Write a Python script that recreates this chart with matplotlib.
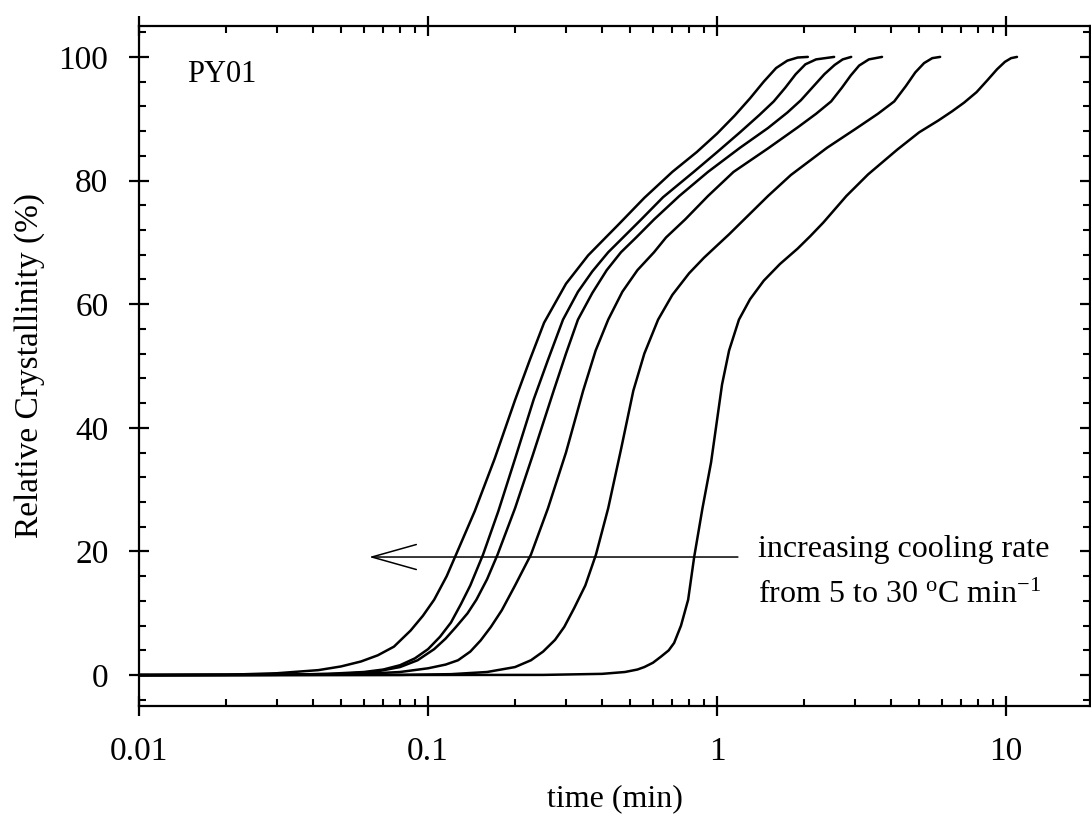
import matplotlib
matplotlib.use("Agg")
import matplotlib.pyplot as plt
from matplotlib.ticker import FixedLocator, MultipleLocator, LogLocator, NullFormatter, FuncFormatter

plt.rcParams['font.family'] = ['Liberation Serif', 'DejaVu Serif']
plt.rcParams['mathtext.fontset'] = 'custom'
plt.rcParams['mathtext.rm'] = 'Liberation Serif'
plt.rcParams['mathtext.it'] = 'Liberation Serif:italic'

# time (min) and relative crystallinity (%) for six cooling rates (fastest first)
t1 = [0.01, 0.02, 0.03, 0.0417, 0.05, 0.0586, 0.067, 0.0762, 0.087, 0.096, 0.105, 0.116, 0.125, 0.145, 0.17,
      0.2, 0.225, 0.252, 0.3, 0.358, 0.406, 0.454, 0.56, 0.70, 0.85, 1.0, 1.15, 1.3, 1.45, 1.6, 1.75, 1.9, 2.06]
y1 = [0.0, 0.05, 0.3, 0.8, 1.4, 2.2, 3.2, 4.6, 7.2, 9.6, 12.2, 16.0, 19.5, 26.5, 35.0,
      44.5, 51.0, 57.0, 63.3, 67.9, 70.5, 72.8, 77.2, 81.4, 84.6, 87.6, 90.5, 93.3, 96.0, 98.2, 99.4, 99.9, 100.0]

t2 = [0.01, 0.03, 0.045, 0.06, 0.07, 0.08, 0.09, 0.1, 0.11, 0.12, 0.13, 0.14, 0.155, 0.175, 0.2, 0.232,
      0.26, 0.293, 0.33, 0.37, 0.42, 0.473, 0.546, 0.65, 0.83, 1.0, 1.2, 1.4, 1.57, 1.72, 1.87, 2.02, 2.2, 2.54]
y2 = [0.0, 0.05, 0.2, 0.5, 0.9, 1.6, 2.7, 4.2, 6.2, 8.5, 11.5, 14.5, 19.5, 26.5, 35.0, 44.6,
      51.0, 57.5, 62.0, 65.3, 68.4, 70.8, 73.7, 77.3, 81.4, 84.6, 87.8, 90.6, 92.8, 95.0, 97.2, 98.8, 99.6, 100.0]

t3 = [0.01, 0.03, 0.05, 0.065, 0.08, 0.092, 0.105, 0.115, 0.125, 0.137, 0.147, 0.16, 0.174, 0.2, 0.23, 0.272,
      0.3, 0.33, 0.37, 0.415, 0.465, 0.525, 0.605, 0.74, 0.93, 1.2, 1.5, 1.75, 1.95, 2.15, 2.35, 2.55, 2.72, 2.91]
y3 = [0.0, 0.05, 0.2, 0.5, 1.3, 2.4, 4.2, 5.9, 7.8, 10.0, 12.2, 15.5, 19.5, 27.0, 35.5, 46.0,
      52.0, 57.5, 61.8, 65.5, 68.4, 70.8, 73.7, 77.5, 81.4, 85.3, 88.5, 91.0, 93.0, 95.2, 97.2, 98.7, 99.6, 100.0]

t4 = [0.01, 0.04, 0.06, 0.08, 0.1, 0.115, 0.127, 0.14, 0.152, 0.165, 0.18, 0.2, 0.227, 0.26, 0.3, 0.344,
      0.38, 0.42, 0.47, 0.53, 0.605, 0.666, 0.775, 0.93, 1.14, 1.5, 1.9, 2.2, 2.48, 2.7, 2.9, 3.1, 3.35, 3.72]
y4 = [0.0, 0.05, 0.2, 0.5, 1.1, 1.7, 2.4, 3.8, 5.6, 7.8, 10.5, 14.5, 19.5, 27.0, 36.0, 46.0,
      52.5, 57.5, 62.0, 65.5, 68.4, 70.8, 73.7, 77.5, 81.4, 85.2, 88.6, 90.8, 92.8, 95.0, 97.0, 98.6, 99.6, 100.0]

t5 = [0.01, 0.08, 0.12, 0.16, 0.2, 0.227, 0.25, 0.275, 0.296, 0.32, 0.35, 0.381, 0.42, 0.465, 0.513,
      0.56, 0.625, 0.7, 0.8, 0.9, 1.0, 1.1, 1.24, 1.5, 1.8, 2.4, 3.0, 3.6, 4.1, 4.5, 4.85, 5.2, 5.55, 5.91]
y5 = [0.0, 0.03, 0.15, 0.5, 1.3, 2.4, 3.8, 5.7, 7.8, 10.8, 14.5, 19.5, 27.0, 36.5, 46.0,
      52.0, 57.5, 61.5, 65.0, 67.5, 69.5, 71.3, 73.7, 77.5, 80.9, 85.3, 88.3, 90.8, 92.8, 95.3, 97.5, 99.0, 99.8, 100.0]

t6 = [0.01, 0.25, 0.4, 0.48, 0.53, 0.56, 0.6, 0.64, 0.68, 0.71, 0.75, 0.794, 0.833, 0.89, 0.953, 1.04,
      1.1, 1.19, 1.3, 1.45, 1.65, 1.9, 2.1, 2.33, 2.8, 3.33, 4.2, 5.0, 5.82, 6.5, 7.15, 7.9, 8.6, 9.3, 9.9, 10.4, 10.9]
y6 = [0.0, 0.03, 0.2, 0.5, 0.9, 1.3, 2.0, 3.0, 4.0, 5.2, 8.0, 12.2, 19.1, 27.0, 34.4, 47.0,
      52.5, 57.5, 60.8, 63.8, 66.5, 69.0, 71.0, 73.2, 77.5, 81.0, 85.0, 87.8, 89.7, 91.2, 92.6, 94.3, 96.2, 98.0, 99.2, 99.8, 100.0]

series = [(t1, y1), (t2, y2), (t3, y3), (t4, y4), (t5, y5), (t6, y6)]

x_major = [0.01, 0.1, 1, 10]
y_major = [0, 20, 40, 60, 80, 100]

fig = plt.figure(figsize=(10.91, 8.17), dpi=100)
ax = fig.add_axes([139/1091, 1 - 706/817, (1090 - 139)/1091, (706 - 26)/817])

for t, y in series:
    ax.plot(t, y, color='black', lw=1.8, solid_joinstyle='round', solid_capstyle='round')

ax.set_xscale('log')
ax.set_xlim(0.01, 19.5)
ax.set_ylim(-5, 105)

ax.xaxis.set_major_locator(FixedLocator(x_major))
ax.xaxis.set_major_formatter(FuncFormatter(lambda v, p: '%g' % v))
ax.xaxis.set_minor_locator(LogLocator(base=10, subs=[2, 3, 4, 5, 6, 7, 8, 9], numticks=20))
ax.xaxis.set_minor_formatter(NullFormatter())
ax.yaxis.set_major_locator(FixedLocator(y_major))
ax.yaxis.set_minor_locator(MultipleLocator(4))

for s in ax.spines.values():
    s.set_linewidth(1.6)

ax.tick_params(which='major', direction='inout', length=14, width=1.6,
               top=True, right=True, labelsize=24)
ax.tick_params(which='minor', direction='in', length=5, width=1.5,
               top=True, right=True)
ax.tick_params(axis='x', which='major', pad=15)
ax.tick_params(axis='y', which='major', pad=15)

ax.set_xlabel('time (min)', fontsize=23, labelpad=12)
ax.set_ylabel('Relative Crystallinity (%)', fontsize=24, labelpad=10)

ax.text(0.0147, 95.9, 'PY01', fontsize=22, ha='left', va='baseline')

ax.annotate('', xy=(0.0625, 19.1), xytext=(1.18, 19.1),
            arrowprops=dict(arrowstyle='->,head_length=3.2,head_width=0.9',
                            lw=1.1, color='black', shrinkA=0, shrinkB=0,
                            mutation_scale=10))
ax.text(1.39, 19.1, 'increasing cooling rate', fontsize=23, ha='left', va='baseline')
ax.text(1.39, 11.7, r'from 5 to 30 $^{\mathrm{o}}$C min$^{\mathrm{-1}}$', fontsize=23,
        ha='left', va='baseline')

fig.savefig('out.png', dpi=100)
